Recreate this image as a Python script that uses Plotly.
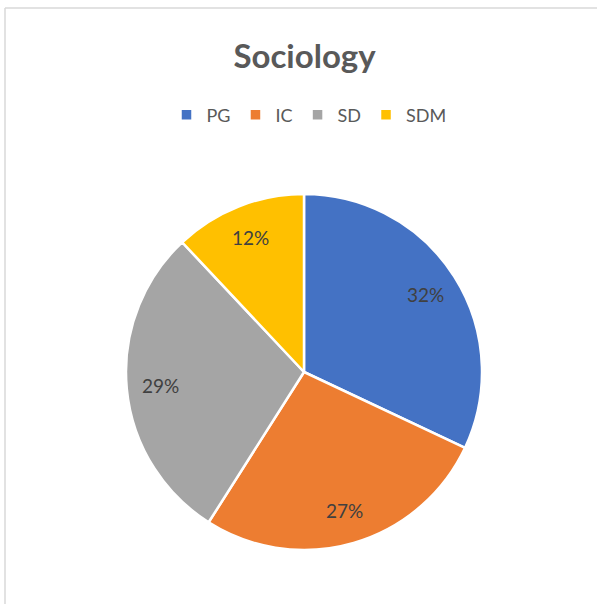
import math
import plotly.graph_objects as go

labels = ["PG", "IC", "SD", "SDM"]
values = [32, 27, 29, 12]
colors = ["#4472C4", "#ED7D31", "#A5A5A5", "#FFC000"]

W, H = 597, 604
cx, cy, r = 304, 372, 178
FONT = "Lato, Carlito, Calibri, Open Sans, sans-serif"

fig = go.Figure(go.Pie(
    labels=labels, values=values, sort=False, direction="clockwise", rotation=0,
    marker=dict(colors=colors, line=dict(color="white", width=2.5)),
    textinfo="none",
    domain=dict(x=[(cx - r) / W, (cx + r) / W], y=[1 - (cy + r) / H, 1 - (cy - r) / H]),
    hoverinfo="label+percent",
))

# data labels placed further out than plotly's default, like the original
total = sum(values)
annotations = []
cum = 0
f = 0.81
for v in values:
    mid = (cum + v / 2) / total * 2 * math.pi
    cum += v
    px = cx + f * r * math.sin(mid)
    py = cy - f * r * math.cos(mid)
    annotations.append(dict(x=px / W, y=1 - py / H, xref="paper", yref="paper",
                            text=f"{round(v / total * 100)}%", showarrow=False,
                            font=dict(family=FONT, size=19, color="#404040"),
                            xanchor="center", yanchor="middle"))

fig.update_layout(
    width=W, height=H, margin=dict(l=0, r=0, t=0, b=0),
    paper_bgcolor="white", plot_bgcolor="white",
    title=dict(text="<b>Sociology</b>", x=304.5 / W, xanchor="center", y=1 - 56 / H, yanchor="middle",
               font=dict(family=FONT, size=33, color="#595959")),
    legend=dict(orientation="h", x=309 / W, xanchor="center", y=1 - 115 / H, yanchor="middle",
                font=dict(family=FONT, size=18, color="#595959"),
                itemwidth=30, traceorder="normal"),
    annotations=annotations,
    shapes=[
        dict(type="line", xref="paper", yref="paper", x0=5 / W, x1=1, y0=1 - 8 / H, y1=1 - 8 / H,
             line=dict(color="#D9D9D9", width=1.5)),
        dict(type="line", xref="paper", yref="paper", x0=5 / W, x1=5 / W, y0=0, y1=1 - 8 / H,
             line=dict(color="#D9D9D9", width=1.5)),
    ],
)

fig.write_html("out.html", config={"displayModeBar": False},
               post_script="document.body.style.margin='0';document.body.style.overflow='hidden';")
